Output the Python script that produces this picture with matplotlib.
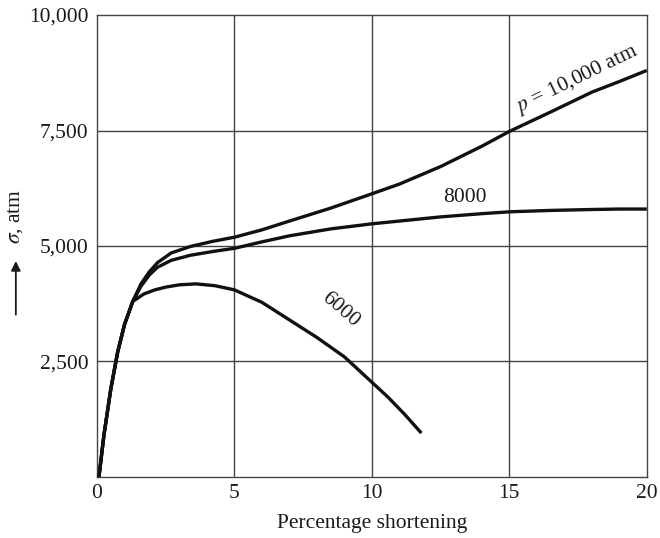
#  Stress vs. percentage shortening at three confining pressures
import matplotlib.pyplot as plt
import numpy as np

plt.rcParams['font.family'] = ['Liberation Serif', 'DejaVu Serif']
plt.rcParams['mathtext.fontset'] = 'stix'

# curve values (percentage shortening, sigma in atm)
x_p10000 = [0.07, 0.25, 0.5, 0.75, 1.0, 1.3, 1.6, 1.9, 2.2, 2.7, 3.4, 4.2, 5.0, 6.0, 7.0, 8.5,
            10.0, 11.0, 12.5, 14.0, 15.0, 16.5, 18.0, 19.0, 20.0]
y_p10000 = [0, 900, 1900, 2700, 3300, 3800, 4180, 4440, 4640, 4850, 4990, 5100, 5190, 5350, 5540, 5820,
            6130, 6340, 6720, 7160, 7480, 7900, 8330, 8560, 8800]

x_p8000 = [0.07, 0.25, 0.5, 0.75, 1.0, 1.3, 1.6, 1.9, 2.2, 2.7, 3.4, 4.2, 5.0, 6.0, 7.0, 8.5,
           10.0, 11.0, 12.5, 14.0, 15.0, 16.5, 18.0, 19.0, 20.0]
y_p8000 = [0, 900, 1900, 2700, 3300, 3800, 4130, 4370, 4540, 4690, 4800, 4880, 4950, 5090, 5220, 5370,
           5480, 5540, 5630, 5700, 5740, 5770, 5790, 5800, 5800]

x_p6000 = [0.07, 0.25, 0.5, 0.75, 1.0, 1.3, 1.7, 2.1, 2.5, 3.0, 3.6, 4.3, 5.0, 6.0, 7.0, 8.0,
           9.0, 10.0, 10.6, 11.2, 11.8]
y_p6000 = [0, 900, 1900, 2700, 3300, 3800, 3960, 4050, 4110, 4160, 4180, 4140, 4050, 3780, 3400, 3020,
           2600, 2050, 1720, 1350, 950]

x_ticks = [0, 5, 10, 15, 20]
y_ticks = [2500, 5000, 7500, 10000]
y_tick_labels = ['2,500', '5,000', '7,500', '10,000']

fig = plt.figure(figsize=(6.6, 5.38), dpi=100)
ax = fig.add_axes([0.147, 0.1134, 0.833, 0.8587])

for xs, ys in [(x_p10000, y_p10000), (x_p8000, y_p8000), (x_p6000, y_p6000)]:
    ax.plot(xs, ys, color='#111111', lw=2.4, solid_capstyle='butt', zorder=3)

ax.set_xlim(0, 20)
ax.set_ylim(0, 10000)
ax.set_xticks(x_ticks)
ax.set_xticklabels([str(t) for t in x_ticks])
ax.set_yticks(y_ticks)
ax.set_yticklabels(y_tick_labels)
ax.tick_params(length=0, labelsize=15.5, colors='#1a1a1a', pad=6)
ax.tick_params(axis='x', pad=5)

# grid lines
for gx in [5, 10, 15]:
    ax.axvline(gx, color='#444444', lw=1.0, zorder=1)
for gy in [2500, 5000, 7500]:
    ax.axhline(gy, color='#444444', lw=1.0, zorder=1)
for sp in ax.spines.values():
    sp.set_color('#444444')
    sp.set_linewidth(1.0)

# curve labels
ax.text(17.45, 8600, r'$p$ = 10,000 atm', fontsize=15.5, rotation=26,
        ha='center', va='center', color='#1a1a1a')
ax.text(13.4, 6040, '8000', fontsize=15.5, ha='center', va='center', color='#1a1a1a')
ax.text(8.85, 3620, '6000', fontsize=15.5, rotation=-41, ha='center', va='center', color='#1a1a1a')

ax.set_xlabel('Percentage shortening', fontsize=15.5, color='#1a1a1a', labelpad=8)

# y label with arrow
fig.text(0.024, 0.597, r'$\sigma$, atm', fontsize=15.5, rotation=90, ha='center', va='center',
         color='#1a1a1a')
fig.patches.append(plt.matplotlib.patches.FancyArrowPatch(
    (0.024, 0.41), (0.024, 0.52), transform=fig.transFigure, arrowstyle='-|>',
    mutation_scale=14, color='#1a1a1a', lw=1.3))

plt.savefig('out.png', dpi=100)
